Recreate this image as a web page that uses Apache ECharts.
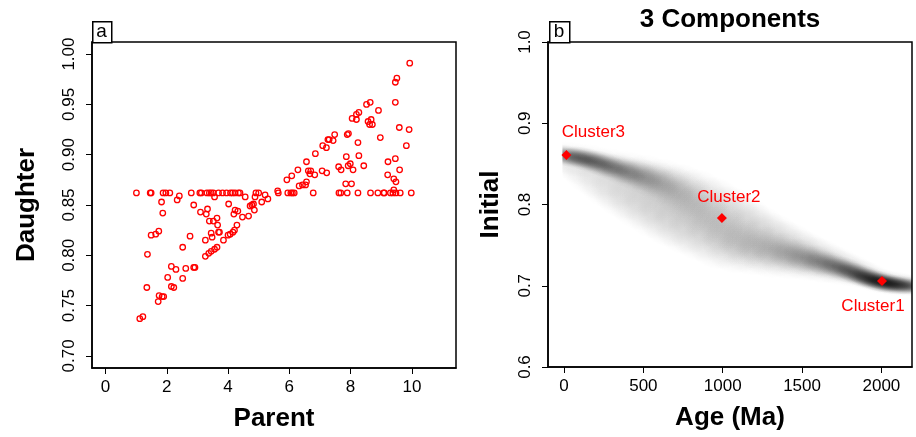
<!DOCTYPE html>
<html><head><meta charset="utf-8">
<script src="https://cdn.jsdelivr.net/npm/echarts@6/dist/echarts.min.js"></script>
<style>html,body{margin:0;padding:0;background:#fff;}#c{width:916px;height:437px;}</style>
</head><body><div id="c"></div>
<script>
// ---------- Panel a data ----------
const flatParent = [1.01,1.46,1.49,1.88,1.97,2.10,2.80,3.08,3.13,3.31,3.39,3.45,3.52,3.69,3.82,3.95,4.08,4.15,4.23,4.34,4.39,4.91,5.00,5.64,5.95,6.05,6.10,6.16,6.78,7.62,7.68,7.89,8.24,8.65,8.89,9.08,9.10,9.30,9.38,9.48,9.62,9.98];
const flatDaughter = 0.862;
const parentVals = [1.12,1.22,1.35,1.37,1.49,1.64,1.74,1.72,1.75,1.85,1.90,2.03,2.15,2.23,2.15,2.30,2.52,2.62,2.88,2.92,2.52,2.76,1.83,1.87,2.34,2.41,2.88,
 3.10,3.29,3.33,3.56,3.39,3.52,3.64,3.66,3.45,3.69,3.72,3.48,3.26,3.85,3.26,3.37,3.45,3.56,3.64,4.00,4.07,4.16,4.21,4.29,4.02,4.19,4.23,4.32,4.47,4.67,4.72,4.78,4.83,4.86,4.56,4.88,5.10,5.21,5.30,
 5.62,5.92,6.08,6.28,6.32,6.43,6.53,6.56,6.56,6.62,6.70,6.67,6.83,6.85,7.07,7.22,7.09,7.21,7.26,7.30,7.43,7.48,7.61,7.69,7.84,7.86,7.89,7.93,7.92,7.99,8.03,8.05,8.08,8.19,8.19,8.24,8.27,8.27,8.43,8.52,8.57,8.62,8.64,8.67,8.71,8.91,8.97,9.21,9.22,9.41,9.41,9.46,9.46,9.46,9.48,9.51,9.59,9.60,9.82,9.91,9.93];
const daughterVals = [0.737,0.739,0.768,0.801,0.820,0.821,0.824,0.754,0.760,0.759,0.759,0.778,0.769,0.768,0.789,0.786,0.777,0.787,0.788,0.788,0.808,0.819,0.853,0.842,0.855,0.859,0.850,
 0.843,0.841,0.846,0.858,0.834,0.834,0.837,0.830,0.822,0.823,0.823,0.818,0.815,0.815,0.799,0.802,0.804,0.806,0.808,0.820,0.821,0.823,0.825,0.830,0.851,0.841,0.845,0.844,0.838,0.839,0.849,0.850,0.851,0.845,0.858,0.858,0.853,0.860,0.856,
 0.864,0.875,0.879,0.885,0.869,0.870,0.870,0.873,0.893,0.884,0.884,0.881,0.880,0.901,0.884,0.882,0.909,0.907,0.915,0.915,0.914,0.920,0.888,0.885,0.871,0.898,0.920,0.921,0.889,0.891,0.871,0.936,0.885,0.940,0.935,0.912,0.942,0.899,0.889,0.950,0.933,0.930,0.952,0.935,0.930,0.944,0.917,0.880,0.893,0.876,0.865,0.952,0.972,0.896,0.873,0.976,0.927,0.885,0.909,0.925,0.991];
const xTicksA = [0,2,4,6,8,10];
const yTicksA = [0.70,0.75,0.80,0.85,0.90,0.95,1.00];

// ---------- Panel b data ----------
const clusterNames = ['Cluster1','Cluster2','Cluster3'];
const clusterAge = [2004, 995, 15];
const clusterInit = [0.7058, 0.7835, 0.861];
const xTicksB = [0,500,1000,1500,2000];
const yTicksB = [0.6,0.7,0.8,0.9,1.0];
// density band
const bandAge  = [0,100,200,300,400,500,600,700,800,900,1000,1100,1200,1300,1400,1500,1600,1700,1800,1900,2000,2100,2200];
const haloInit = [0.856,0.849,0.840,0.831,0.823,0.815,0.807,0.799,0.791,0.782,0.772,0.764,0.757,0.750,0.744,0.738,0.732,0.726,0.720,0.713,0.706,0.703,0.700];
const haloHalf = [0.016,0.022,0.028,0.033,0.037,0.041,0.044,0.046,0.047,0.047,0.046,0.043,0.039,0.035,0.031,0.027,0.024,0.021,0.018,0.016,0.014,0.013,0.012];
const haloDark = [0.10,0.11,0.12,0.14,0.16,0.18,0.19,0.20,0.20,0.20,0.20,0.20,0.19,0.18,0.17,0.16,0.15,0.14,0.13,0.12,0.12,0.12,0.12];
const coreInit = [0.860,0.857,0.852,0.846,0.840,0.834,0.827,0.818,0.805,0.788,0.766,0.756,0.750,0.745,0.740,0.735,0.730,0.724,0.718,0.711,0.705,0.702,0.700];
const coreHalf = [0.010,0.011,0.012,0.013,0.015,0.017,0.019,0.022,0.025,0.027,0.027,0.025,0.023,0.021,0.019,0.017,0.015,0.013,0.012,0.011,0.010,0.009,0.008];
const coreDark = [0.55,0.66,0.60,0.50,0.42,0.34,0.25,0.17,0.11,0.08,0.08,0.09,0.12,0.17,0.23,0.31,0.40,0.50,0.62,0.80,0.95,0.85,0.55];
const bandStartAge = -10;

const F = '"Liberation Sans", Arial, Helvetica, sans-serif';

function makeBand(ages, inits, halfs, darks, profile, overlap, widen) {
  return function (params, api) {
    const i = params.dataIndex;
    const p = api.coord([ages[i], inits[i]]);
    const q = api.coord([ages[i], inits[i] + halfs[i]]);
    const hpx = Math.abs(p[1] - q[1]) * widen;
    const i0 = Math.max(0, i - 1), i1 = Math.min(ages.length - 1, i + 1);
    const a0 = api.coord([ages[i0], inits[i0]]), a1 = api.coord([ages[i1], inits[i1]]);
    const ang = Math.atan2(a1[1] - a0[1], a1[0] - a0[0]);
    const spacing = Math.hypot(a1[0] - a0[0], a1[1] - a0[1]) / (i1 - i0);
    const major = spacing * 2.2;
    const alpha = 1 - Math.pow(1 - darks[i], 1 / overlap);
    const cs = params.coordSys;
    const left = api.coord([bandStartAge, 0.8])[0];
    return {
      type: 'group',
      clipPath: { type: 'rect', shape: { x: left, y: cs.y, width: cs.x + cs.width - left, height: cs.height } },
      children: [{
        type: 'circle', x: p[0], y: p[1], rotation: -ang, scaleX: major / 10, scaleY: hpx / 10,
        shape: { cx: 0, cy: 0, r: 10 },
        style: { fill: { type: 'radial', x: 0.5, y: 0.5, r: 0.5,
          colorStops: profile.map(s => ({ offset: s[0], color: 'rgba(0,0,0,' + (alpha * s[1]).toFixed(4) + ')' })) } }
      }]
    };
  };
}

const axisCommon = {
  type: 'value',
  axisLine: { show: true, onZero: false, lineStyle: { color: '#000', width: 1.5 } },
  splitLine: { show: false },
  nameLocation: 'middle',
  nameTextStyle: { fontSize: 26, fontWeight: 'bold', color: '#000', fontFamily: F }
};

const chart = echarts.init(document.getElementById('c'), null, { renderer: 'canvas' });
chart.setOption({
  backgroundColor: '#fff',
  animation: false,
  textStyle: { fontFamily: F },
  grid: [
    { left: 92, top: 42, width: 364, height: 326, show: true, borderColor: '#000', borderWidth: 1.5, containLabel: false, outerBoundsMode: 'none' },
    { left: 548, top: 42, width: 364, height: 325, show: true, borderColor: '#000', borderWidth: 1.5, containLabel: false, outerBoundsMode: 'none' }
  ],
  xAxis: [
    Object.assign({}, axisCommon, { gridIndex: 0, min: -0.44, max: 11.44, name: 'Parent', nameGap: 38,
      axisTick: { show: true, length: 6, customValues: xTicksA, lineStyle: { color: '#000' } },
      axisLabel: { customValues: xTicksA, fontSize: 17, color: '#000', margin: 11, fontFamily: F, formatter: v => String(v) } }),
    Object.assign({}, axisCommon, { gridIndex: 1, min: -101, max: 2193, name: 'Age (Ma)', nameGap: 38,
      axisTick: { show: true, length: 6, customValues: xTicksB, lineStyle: { color: '#000' } },
      axisLabel: { customValues: xTicksB, fontSize: 17, color: '#000', margin: 11, fontFamily: F, formatter: v => String(v) } })
  ],
  yAxis: [
    Object.assign({}, axisCommon, { gridIndex: 0, min: 0.688, max: 1.012, name: 'Daughter', nameGap: 52,
      axisTick: { show: true, length: 6, customValues: yTicksA, lineStyle: { color: '#000' } },
      axisLabel: { customValues: yTicksA, rotate: 90, fontSize: 17, color: '#000', margin: 14, fontFamily: F, formatter: v => v.toFixed(2) } }),
    Object.assign({}, axisCommon, { gridIndex: 1, min: 0.6, max: 1.0, name: 'Initial', nameGap: 44,
      axisTick: { show: true, length: 6, customValues: yTicksB, lineStyle: { color: '#000' } },
      axisLabel: { customValues: yTicksB, rotate: 90, fontSize: 17, color: '#000', margin: 14, fontFamily: F, formatter: v => v.toFixed(1) } })
  ],
  graphic: [
    { type: 'rect', left: 92, top: 21, shape: { width: 19, height: 21 }, style: { fill: '#fff', stroke: '#000', lineWidth: 1.5 }, z: 100 },
    { type: 'text', x: 101.5, y: 31.5, style: { text: 'a', font: '19px ' + F, fill: '#000', align: 'center', verticalAlign: 'middle' }, z: 101 },
    { type: 'rect', left: 549, top: 21, shape: { width: 20, height: 21 }, style: { fill: '#fff', stroke: '#000', lineWidth: 1.5 }, z: 100 },
    { type: 'text', x: 559, y: 31.5, style: { text: 'b', font: '19px ' + F, fill: '#000', align: 'center', verticalAlign: 'middle' }, z: 101 },
    { type: 'text', x: 730, y: 20, style: { text: '3 Components', font: 'bold 26px ' + F, fill: '#000', align: 'center', verticalAlign: 'middle' }, z: 101 }
  ],
  series: [
    { type: 'scatter', xAxisIndex: 0, yAxisIndex: 0, symbol: 'circle', symbolSize: 5.5,
      itemStyle: { color: 'rgba(0,0,0,0)', borderColor: '#ff0000', borderWidth: 1.3, opacity: 1 },
      data: flatParent.map(v => [v, flatDaughter]).concat(parentVals.map((v, i) => [v, daughterVals[i]])), z: 5 },
    { type: 'custom', xAxisIndex: 1, yAxisIndex: 1, clip: true,
      renderItem: makeBand(bandAge, haloInit, haloHalf, haloDark, [[0,1],[0.5,0.9],[0.75,0.55],[0.9,0.2],[1,0]], 3.1, 1.15),
      data: bandAge.map((a, i) => [a, haloInit[i]]), z: 1 },
    { type: 'custom', xAxisIndex: 1, yAxisIndex: 1, clip: true,
      renderItem: makeBand(bandAge, coreInit, coreHalf, coreDark, [[0,1],[0.3,0.8],[0.55,0.45],[0.8,0.12],[1,0]], 2.1, 1.3),
      data: bandAge.map((a, i) => [a, coreInit[i]]), z: 2 },
    { type: 'scatter', xAxisIndex: 1, yAxisIndex: 1, symbol: 'diamond', symbolSize: 10,
      itemStyle: { color: '#ff0000', opacity: 1 }, z: 10,
      label: { show: true, position: 'inside', color: '#ff0000', fontSize: 17, fontFamily: F },
      data: clusterAge.map((a, i) => ({
        value: [a, clusterInit[i]], name: clusterNames[i],
        label: { formatter: clusterNames[i], offset: [[-9, 25], [7, -21], [27, -23]][i] }
      })) }
  ]
});
</script></body></html>
